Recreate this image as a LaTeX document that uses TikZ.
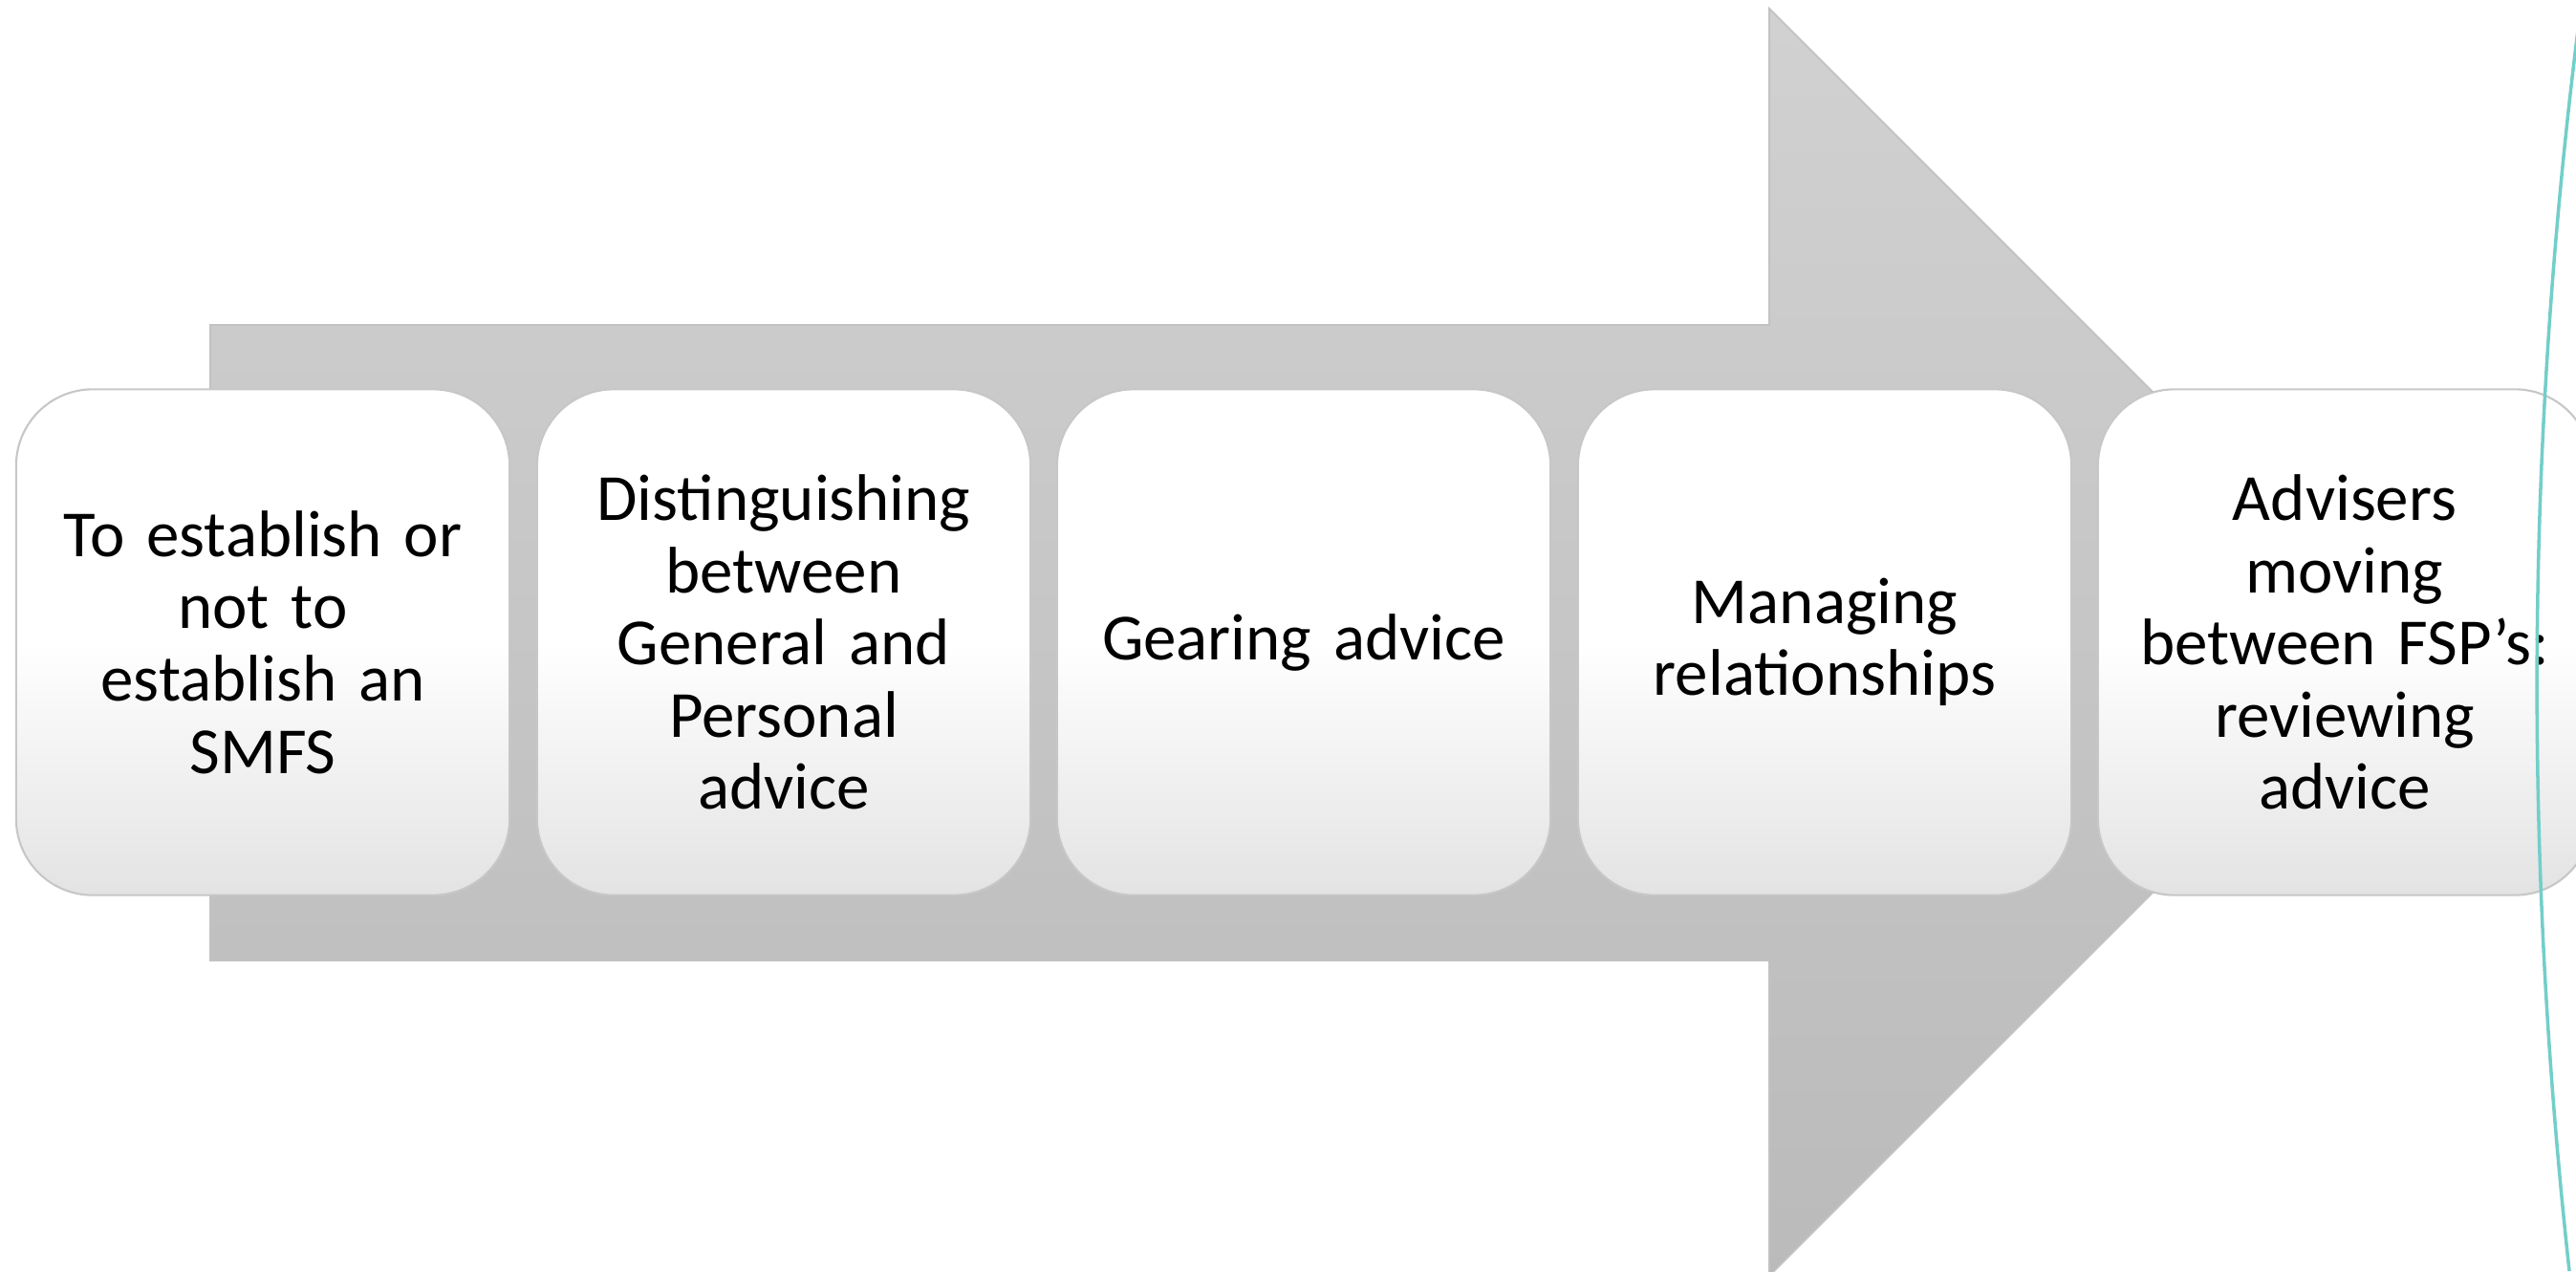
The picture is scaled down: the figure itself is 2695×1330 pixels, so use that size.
\documentclass[tikz,border=0pt]{standalone}
\usepackage{fontspec}
\setmainfont{Carlito}

\begin{document}
\begin{tikzpicture}[x=0.01cm, y=-0.01cm, stage node/.style={rectangle,rounded corners=0.8cm,draw=black!22,line width=0.6pt,top color=white,bottom color=black!11,middle color=white,minimum width=5.16cm,minimum height=5.29cm,text width=4.7cm,align=center,inner sep=0pt,font=\fontsize{19.6}{21.5}\selectfont}]%
\useasboundingbox (0,0) rectangle (2695,1330);
\clip (0,0) rectangle (2695,1330);
% big block arrow behind the stages
\begin{scope}
\path[top color=black!18, bottom color=black!27, draw=black!24, line width=0.5pt]
  (220,340) -- (1851,340) -- (1851,9) -- (2514,672) -- (1851,1335) -- (1851,1005) -- (220,1005) -- cycle;
\end{scope}
\begin{scope}
\node[stage node] (s1) at (275,672) {To establish or\\not to\\establish an\\SMFS};
\node[stage node] (s2) at (820,672) {Distinguishing\\between\\General and\\Personal\\advice};
\node[stage node] (s3) at (1364,672) {Gearing advice};
\node[stage node] (s4) at (1909,672) {Managing\\relationships};
\node[stage node] (s5) at (2453,672) {Advisers\\moving\\between FSP’s:\\reviewing\\advice};
\end{scope}
% thin teal arc on the right
\draw[color={rgb,255:red,115;green,206;blue,201}, line width=1pt]
  (2701,0) .. controls (2643,442) and (2639,885) .. (2688,1330);
\end{tikzpicture}
\end{document}
